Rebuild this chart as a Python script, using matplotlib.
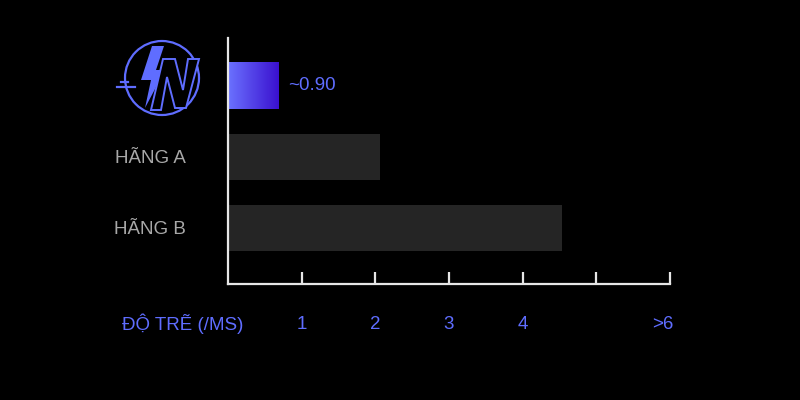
import numpy as np
import matplotlib
matplotlib.use("Agg")
import matplotlib.pyplot as plt
import matplotlib.transforms as mtransforms
from matplotlib.patches import Circle, Polygon
from matplotlib.colors import LinearSegmentedColormap

plt.rcParams['font.family'] = ['Liberation Sans', 'DejaVu Sans']

# data
categories = ["", "HÃNG A", "HÃNG B"]
latency = [0.68, 2.06, 4.53]
value_label = "~0.90"
xticks = [1, 2, 3, 4, 5, 6]
xtick_labels = ["1", "2", "3", "4", "", ">6"]
axis_title = "ĐỘ TRẼ (/MS)"

blue = "#5f6dff"
bar_gray = "#252525"
fs = 13.5

fig = plt.figure(figsize=(8, 4), dpi=100, facecolor="black")
ax = fig.add_axes([228 / 800, 1 - 284 / 400, 442 / 800, 246 / 400])
ax.set_facecolor("black")

ypos = np.arange(len(categories))
bar_h = 0.65
bars = ax.barh(ypos, latency, height=bar_h, color=bar_gray)

# gradient fill for the first bar
cmap = LinearSegmentedColormap.from_list("g", ["#6b72ff", "#3a10cf"])
grad = np.linspace(0, 1, 256).reshape(1, -1)
bars[0].set_facecolor("none")
ax.imshow(grad, cmap=cmap, aspect="auto",
          extent=[0, latency[0], ypos[0] + bar_h / 2, ypos[0] - bar_h / 2],
          zorder=2)
ax.text(latency[0] + 0.13, ypos[0], value_label, color=blue, fontsize=fs,
        va="center", ha="left")

ax.set_xlim(0, 6)
ax.set_ylim(2.79, -0.676)
ax.set_yticks(ypos)
ax.set_yticklabels(categories)
ax.set_xticks(xticks)
ax.set_xticklabels(xtick_labels)

for s in ["top", "right"]:
    ax.spines[s].set_visible(False)
for s in ["left", "bottom"]:
    ax.spines[s].set_color("#e6e6e6")
    ax.spines[s].set_linewidth(1.6)

ax.tick_params(axis="x", direction="in", length=9, width=1.6, color="#e6e6e6",
               labelcolor=blue, labelsize=fs, pad=23)
ax.tick_params(axis="y", length=0, labelcolor="#a8a8a8", labelsize=fs, pad=30)

# last tick label sits a bit left of its tick
last = ax.get_xticklabels()[-1]
last.set_transform(last.get_transform() +
                   mtransforms.ScaledTranslation(-7 / 100, 0, fig.dpi_scale_trans))

fig.text(183 / 800, 1 - 324 / 400, axis_title, color=blue, fontsize=fs,
         ha="center", va="center")

# logo overlay in pixel coordinates
lg = fig.add_axes([0, 0, 1, 1])
lg.set_xlim(0, 800)
lg.set_ylim(400, 0)
lg.axis("off")
lg.patch.set_alpha(0)
lg.add_patch(Circle((162, 78), 37, fill=False, ec=blue, lw=1.6))
lg.plot([121, 128], [82, 82], color=blue, lw=1.6)
lg.plot([117, 135], [87, 87], color=blue, lw=1.6)
bolt = [(152, 46), (164, 46), (156, 70), (165, 70), (145, 108), (151, 80), (141, 80)]
lg.add_patch(Polygon(bolt, closed=True, fc=blue, ec="none"))
n_shape = [(163, 59), (175, 59), (183, 90), (188, 59), (199, 59), (186, 108),
           (175, 108), (167, 77), (161, 110), (151, 110)]
lg.add_patch(Polygon(n_shape, closed=True, fc="black", ec=blue, lw=1.4,
                     joinstyle="miter"))

fig.savefig("out.png", dpi=100, facecolor="black")
